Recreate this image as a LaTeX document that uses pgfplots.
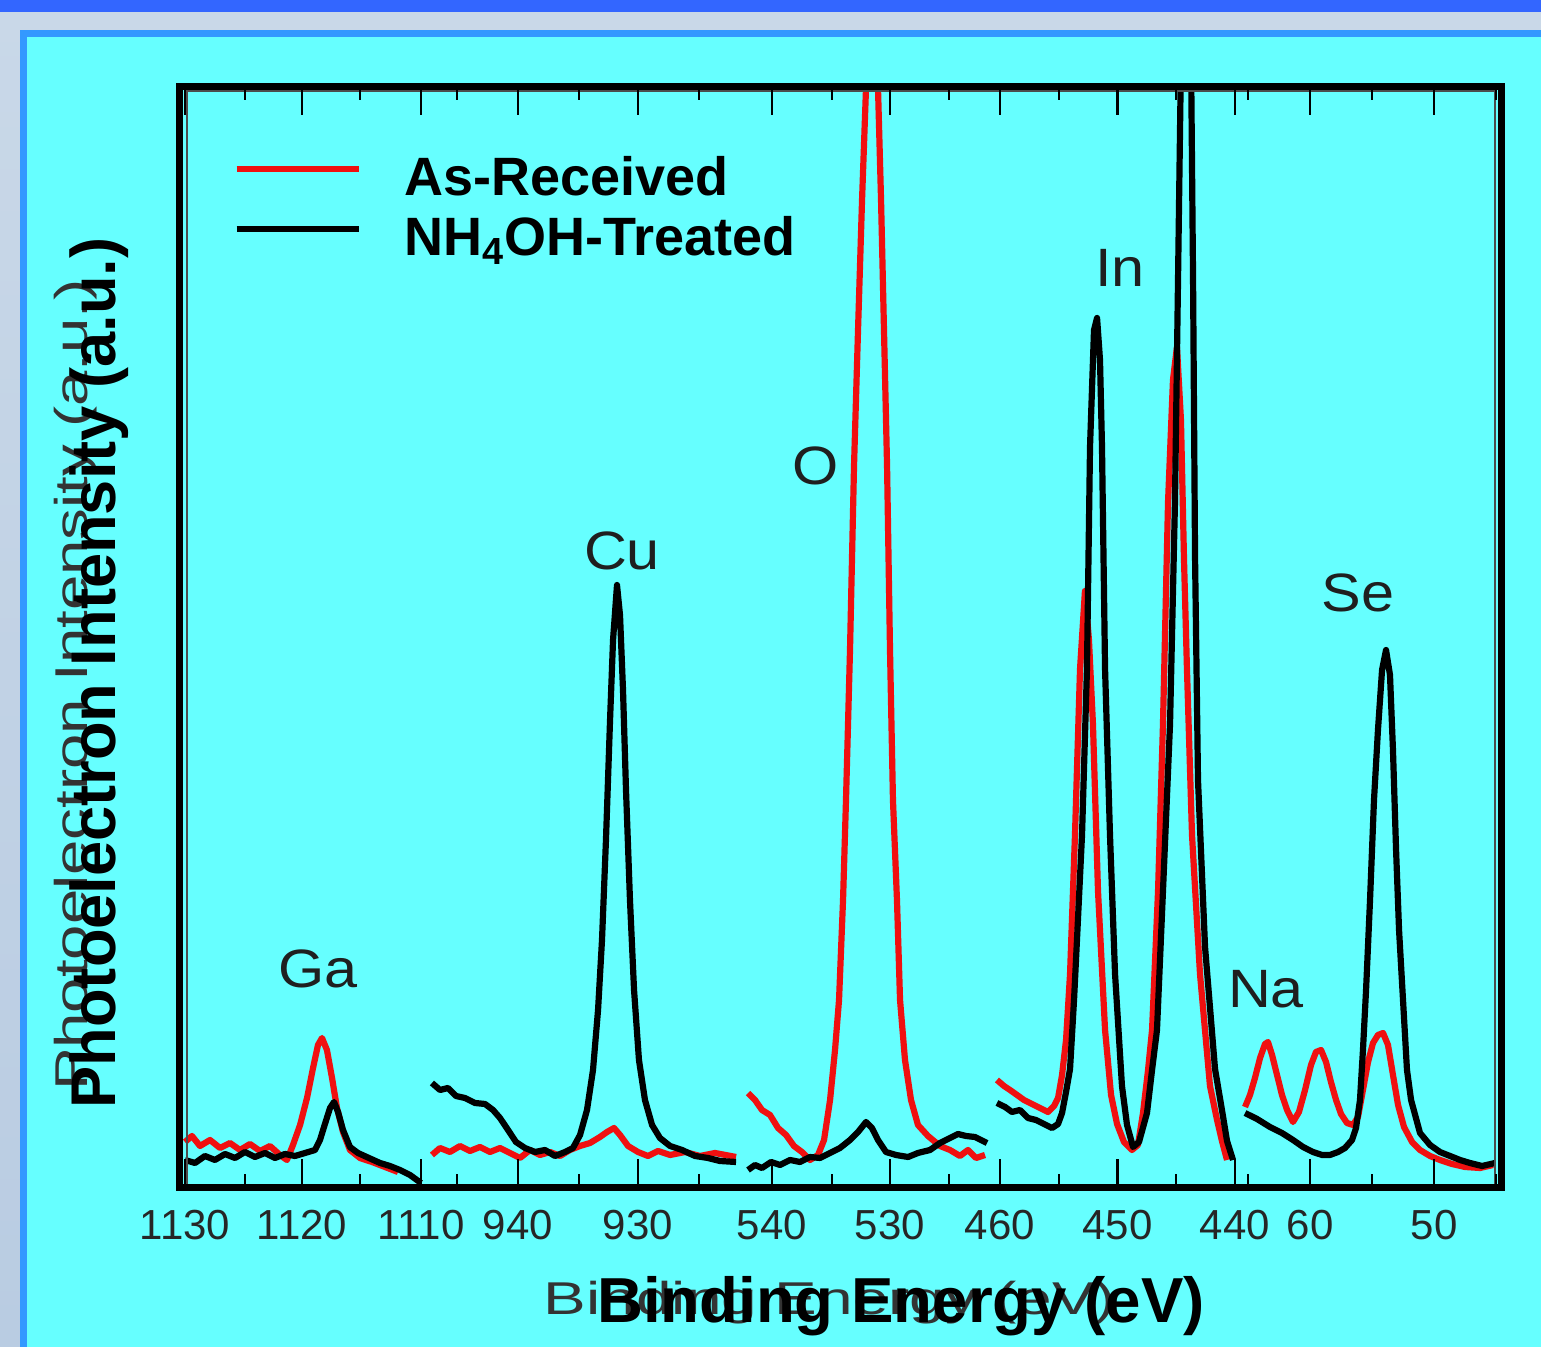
\documentclass[border=0pt]{standalone}
\usepackage{fontspec}
\setmainfont{Liberation Sans}
\usepackage{pgfplots}
\pgfplotsset{compat=1.18}
\usepackage{pgfplotstable}

\definecolor{slidebg}{HTML}{C9D8E8}
\definecolor{slidebg2}{HTML}{B9CCE2}
\definecolor{topbar}{HTML}{3366FF}
\definecolor{panelline}{HTML}{3399FF}
\definecolor{panel}{HTML}{66FFFF}
\definecolor{asred}{HTML}{F01010}

% spectra: binding energy (eV) vs intensity (a.u.), one table per window
\pgfplotstableread{
e v
1130.00 46
1129.41 52
1128.73 42
1127.88 48
1127.03 40
1126.19 45
1125.34 38
1124.49 44
1123.64 37
1122.80 42
1121.95 33
1121.36 28
1120.85 43
1120.25 63
1119.66 90
1119.15 120
1118.73 143
1118.39 150
1117.97 138
1117.54 110
1117.12 80
1116.61 56
1116.02 38
1115.17 30
1114.15 26
1113.05 21
1111.95 16
}\gared
\pgfplotstableread{
e v
1130.00 28
1129.15 25
1128.31 32
1127.46 28
1126.61 34
1125.76 30
1124.92 36
1124.07 31
1123.22 35
1122.37 30
1121.53 34
1120.68 32
1119.83 35
1118.98 38
1118.56 48
1118.14 64
1117.71 80
1117.37 86
1117.03 76
1116.61 58
1116.02 41
1115.34 35
1114.41 30
1113.47 25
1112.63 22
1111.78 18
1110.93 13
1110.00 5
}\gablack
\pgfplotstableread{
e v
947.17 33
946.50 40
945.67 36
944.83 42
944.00 37
943.17 41
942.33 36
941.50 40
940.67 35
939.83 30
939.00 38
938.17 33
937.33 36
936.50 32
935.67 38
934.83 42
934.00 45
933.17 51
932.58 56
932.00 60
931.50 53
930.83 42
930.00 36
929.17 32
928.33 37
927.33 33
926.08 36
924.83 32
923.58 35
921.83 31
}\cured
\pgfplotstableread{
e v
947.17 105
946.50 98
945.83 100
945.17 92
944.42 90
943.58 85
942.75 84
942.08 78
941.50 70
940.83 58
940.17 46
939.42 40
938.58 36
937.75 38
936.92 32
936.08 36
935.42 40
934.83 53
934.25 78
933.75 118
933.33 178
933.00 248
932.67 348
932.33 468
932.08 548
931.75 603
931.50 573
931.25 498
931.00 398
930.67 288
930.33 198
929.92 128
929.42 88
928.83 63
928.17 50
927.33 42
926.33 38
925.25 32
924.17 30
923.17 27
921.83 26
}\cublack
\pgfplotstableread{
e v
542.03 95
541.44 88
540.85 78
540.17 73
539.49 60
538.81 53
538.14 42
537.46 36
536.78 28
536.10 33
535.59 48
535.08 88
534.66 138
534.32 188
533.98 288
533.73 388
533.39 538
533.05 722
532.71 858
532.37 988
532.03 1101
531.78 1150
531.27 1150
531.02 1101
530.76 988
530.51 858
530.25 722
530.00 538
529.75 388
529.41 288
529.15 188
528.73 128
528.22 88
527.63 63
526.78 52
525.76 42
524.92 38
524.07 32
523.39 38
522.71 30
521.95 33
}\ored
\pgfplotstableread{
e v
542.03 18
541.44 23
540.85 20
540.08 26
539.32 23
538.47 28
537.63 26
536.78 31
535.93 30
535.08 35
534.24 40
533.39 48
532.71 56
532.03 66
531.53 60
531.02 48
530.34 36
529.49 33
528.47 31
527.63 35
526.61 38
525.76 45
524.92 50
524.24 54
523.56 52
522.80 51
521.78 45
}\oblack
\pgfplotstableread{
e v
460.26 108
459.66 102
459.15 98
458.55 93
457.96 88
457.28 84
456.60 80
455.91 76
455.40 82
455.06 90
454.72 113
454.38 148
454.04 214
453.62 353
453.19 519
452.77 597
452.43 548
452.09 464
451.66 297
451.06 158
450.55 93
450.04 64
449.45 46
448.77 38
448.26 43
447.83 75
447.40 118
447.06 158
446.55 297
446.13 464
445.70 686
445.28 808
444.94 841
444.60 768
444.34 628
444.09 519
443.66 353
442.98 214
442.13 102
441.53 68
441.11 47
440.68 28
}\inred
\pgfplotstableread{
e v
460.26 85
459.57 81
458.98 76
458.30 78
457.62 70
456.94 68
456.26 64
455.57 60
455.06 64
454.72 75
454.38 96
454.04 119
453.70 188
453.45 248
453.02 353
452.60 519
452.34 741
452.00 858
451.74 870
451.49 828
451.32 741
451.06 519
450.64 353
450.21 214
449.62 102
449.19 63
448.68 41
448.17 46
447.49 75
447.06 118
446.64 158
446.13 297
445.53 464
445.11 686
444.85 908
444.60 1128
444.17 1148
443.74 1128
443.57 908
443.40 630
443.15 408
442.55 241
441.70 119
441.11 78
440.68 47
440.17 28
}\inblack
\pgfplotstableread{
e v
65.24 81
64.84 93
64.44 110
64.03 130
63.63 144
63.39 146
63.06 133
62.66 113
62.26 93
61.85 78
61.37 66
60.89 76
60.40 98
59.92 123
59.52 136
59.11 138
58.71 126
58.31 106
57.90 88
57.50 74
57.02 65
56.53 63
56.13 71
55.73 98
55.32 126
54.92 145
54.52 153
54.11 155
53.71 143
53.31 113
52.90 83
52.42 61
51.77 46
51.13 38
50.32 32
49.52 28
48.55 24
47.50 21
46.29 20
45.24 23
}\sered
\pgfplotstableread{
e v
65.24 75
64.27 69
63.23 61
62.26 55
61.37 48
60.56 41
59.76 36
59.03 33
58.39 33
57.74 36
57.18 40
56.61 48
56.29 60
55.97 88
55.73 138
55.48 198
55.16 288
54.84 388
54.52 458
54.19 518
53.87 538
53.55 513
53.31 438
53.06 338
52.82 258
52.50 188
52.18 118
51.85 88
51.13 55
50.32 43
49.52 36
48.71 32
47.90 28
47.10 25
46.13 22
45.08 25
}\seblack

\begin{document}
\begin{tikzpicture}
\useasboundingbox (0pt,0pt) rectangle (770.5pt,673.5pt);
% slide background
\shade[top color=slidebg, bottom color=slidebg2] (0pt,0pt) rectangle (770.5pt,673.5pt);
\fill[topbar] (0pt,667.25pt) rectangle (770.5pt,673.5pt);
\filldraw[fill=panel, draw=panelline, line width=3.5pt] (11.75pt,-20pt) rectangle (800pt,656.75pt);

\begin{axis}[
  at={(89.5pt,79.5pt)}, anchor=south west,
  scale only axis, width=661.25pt, height=550.75pt,
  xmin=179, xmax=1501.5, ymin=0, ymax=1101.5,
  axis on top,
  axis line style={line width=3.5pt},
  ytick=\empty,
  xtick={185,302,421,518,638,772,890,1000,1117.5,1235,1310,1434},
  xticklabels={1130,1120,1110,940,930,540,530,460,450,440,60,50},
  minor xtick={245,360,457,579,699,832,949,1059,1176,1248,1372,1496},
  xtick pos=both, xticklabel pos=lower,
  tick align=inside,
  major tick length=14.5pt, minor tick length=7pt,
  every tick/.style={black, line width=1.3pt},
  xticklabel style={anchor=base, yshift=-26pt, text=black!85,
    font=\fontsize{21}{21}\selectfont},
  every axis plot/.append style={line width=3.1pt, line join=round},
  legend image code/.code={\draw[#1] (0pt,8pt) -- (61pt,8pt);},
  legend style={at={(axis cs:233,1033)}, anchor=north west,
    draw=none, fill=none, inner sep=0pt,
    font=\bfseries\fontsize{27}{27}\selectfont,
    nodes={inner sep=0pt, text height=20pt, text depth=10pt},
    /tikz/every odd column/.append style={column sep=21.5pt}},
  legend cell align=left,
]
% Ga 2p window
\addplot[asred] table[x expr={185+11.8*(1130-\thisrow{e})}, y=v] {\gared};
\addlegendentry{As-Received}
\addplot[black] table[x expr={185+11.8*(1130-\thisrow{e})}, y=v] {\gablack};
\addlegendentry{NH\textsubscript{4}OH-Treated}
% Cu 2p window
\addplot[asred, forget plot] table[x expr={518+12*(940-\thisrow{e})}, y=v] {\cured};
\addplot[black, forget plot] table[x expr={518+12*(940-\thisrow{e})}, y=v] {\cublack};
% O 1s window
\addplot[asred, forget plot] table[x expr={772+11.8*(540-\thisrow{e})}, y=v] {\ored};
\addplot[black, forget plot] table[x expr={772+11.8*(540-\thisrow{e})}, y=v] {\oblack};
% In 3d window
\addplot[asred, forget plot] table[x expr={1000+11.75*(460-\thisrow{e})}, y=v] {\inred};
\addplot[black, forget plot] table[x expr={1000+11.75*(460-\thisrow{e})}, y=v] {\inblack};
% Na 2s / Se 3d window
\addplot[asred, forget plot] table[x expr={1310+12.4*(60-\thisrow{e})}, y=v] {\sered};
\addplot[black, forget plot] table[x expr={1310+12.4*(60-\thisrow{e})}, y=v] {\seblack};

\begin{scope}[every node/.style={anchor=base, text=black!88,
    font=\fontsize{27}{27}\selectfont, xscale=1.1}]
\node at (axis cs:318,200) {Ga};
\node at (axis cs:622,618) {Cu};
\node at (axis cs:816,703) {O};
\node at (axis cs:1120,901) {In};
\node at (axis cs:1266,180) {Na};
\node at (axis cs:1358,576) {Se};
\end{scope}
\draw[black!70, line width=1pt] (axis cs:187,0) -- (axis cs:187,1096.5) -- (axis cs:1495,1096.5) -- (axis cs:1495,0);
\end{axis}

% faint original axis titles, overprinted by bold ones
\node[anchor=base, text=black!80, font=\fontsize{23}{23}\selectfont]
  at (415pt,16pt) {\scalebox{1.39}[1]{Binding Energy (eV)}};
\node[anchor=base, rotate=90, text=black!80, font=\fontsize{23}{23}\selectfont]
  at (43.5pt,331pt) {\scalebox{1.38}[1]{Photoelectron Intensity (a.u.)}};
\node[anchor=base, font=\bfseries\fontsize{31.8}{32}\selectfont]
  at (450.5pt,12pt) {Binding Energy (eV)};
\node[anchor=base, rotate=90, font=\bfseries\fontsize{31.6}{32}\selectfont]
  at (57.5pt,337pt) {Photoelectron Intensity (a.u.)};
\end{tikzpicture}
\end{document}
